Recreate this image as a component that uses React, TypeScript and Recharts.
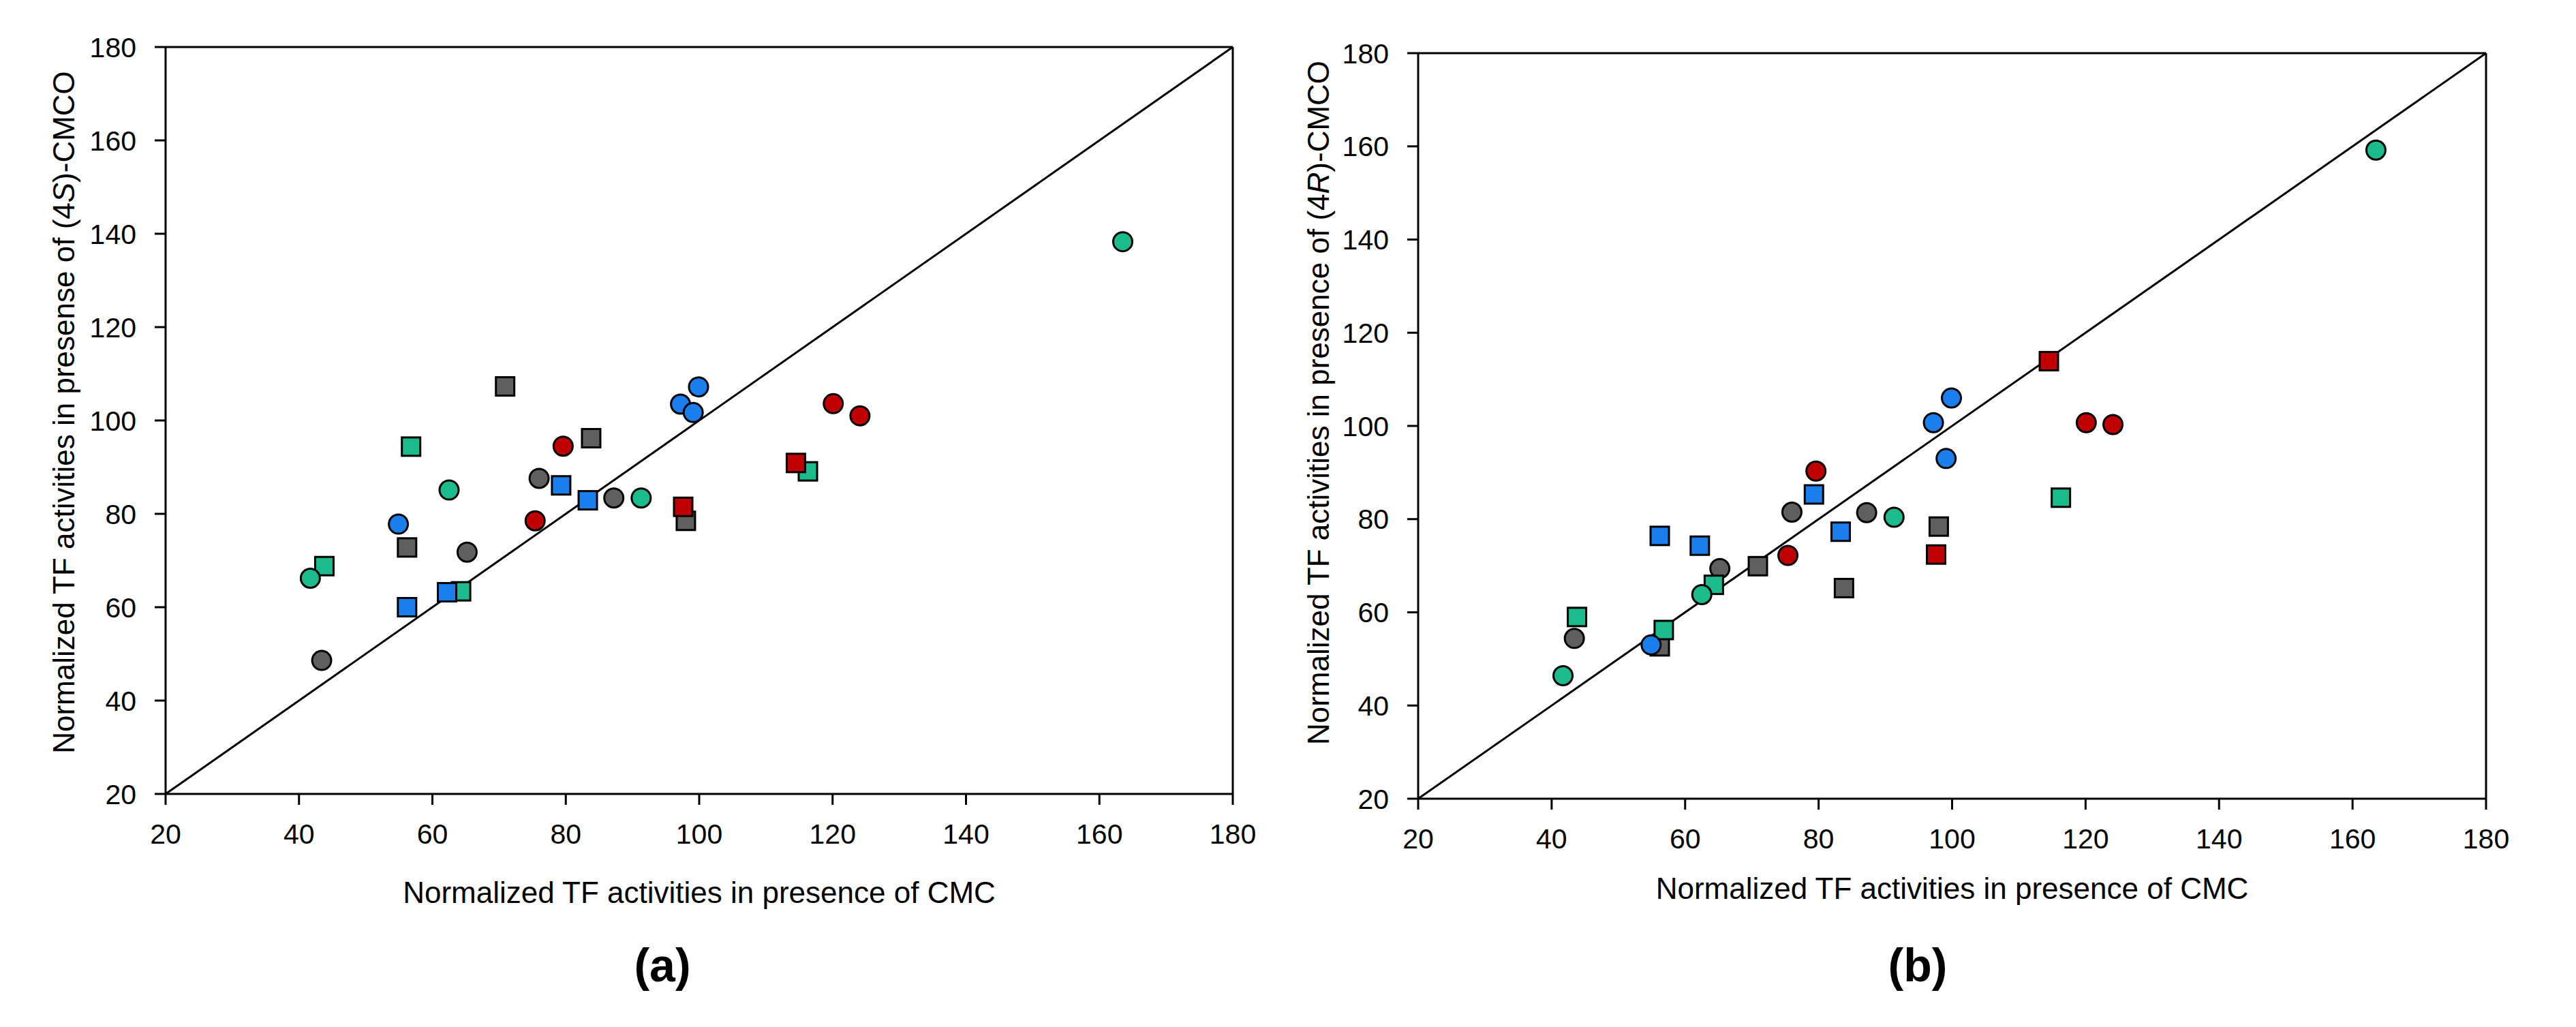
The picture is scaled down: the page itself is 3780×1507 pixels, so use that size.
import React from 'react';
import { Label, ReferenceLine, Scatter, ScatterChart, XAxis, YAxis } from 'recharts';

// x = activity with CMC (shared), a = (4S)-CMCO, b = (4R)-CMCO
const grayCircleX = [43.4, 65.2, 76.0, 87.2];
const grayCircleA = [48.6, 71.8, 87.6, 83.4];
const grayCircleB = [54.4, 69.4, 81.5, 81.4];

const graySquareX = [56.2, 70.9, 83.8, 98.0];
const graySquareA = [72.8, 107.3, 96.2, 78.5];
const graySquareB = [52.7, 69.9, 65.2, 78.4];

const greenCircleX = [41.7, 62.5, 91.3, 163.5];
const greenCircleA = [66.2, 85.1, 83.4, 138.3];
const greenCircleB = [46.4, 63.8, 80.4, 159.2];

const greenSquareX = [43.8, 56.8, 64.3, 116.3];
const greenSquareA = [68.8, 94.4, 63.4, 89.1];
const greenSquareB = [59.0, 56.2, 65.9, 84.6];

const redCircleX = [75.4, 79.6, 120.1, 124.1];
const redCircleA = [78.5, 94.5, 103.6, 101.0];
const redCircleB = [72.2, 90.3, 100.7, 100.3];

const redSquareX = [97.6, 114.5];
const redSquareA = [81.5, 90.9];
const redSquareB = [72.4, 113.9];

const blueSquareX = [56.2, 62.2, 79.3, 83.3];
const blueSquareA = [60.0, 63.2, 86.1, 82.9];
const blueSquareB = [76.4, 74.3, 85.3, 77.3];

const blueCircleX = [54.9, 97.2, 99.1, 99.9];
const blueCircleA = [77.8, 103.5, 101.7, 107.2];
const blueCircleB = [53.0, 100.7, 93.0, 106.0];

const axisTicks = [20, 40, 60, 80, 100, 120, 140, 160, 180];

const GRAY = '#5f5f5f';
const GREEN = '#1cbb8c';
const RED = '#c00000';
const BLUE = '#1a7fec';

const series = [
  { key: 'graySq', color: GRAY, shape: 'square', x: graySquareX, a: graySquareA, b: graySquareB },
  { key: 'grayCi', color: GRAY, shape: 'circle', x: grayCircleX, a: grayCircleA, b: grayCircleB },
  { key: 'greenSq', color: GREEN, shape: 'square', x: greenSquareX, a: greenSquareA, b: greenSquareB },
  { key: 'greenCi', color: GREEN, shape: 'circle', x: greenCircleX, a: greenCircleA, b: greenCircleB },
  { key: 'redSq', color: RED, shape: 'square', x: redSquareX, a: redSquareA, b: redSquareB },
  { key: 'redCi', color: RED, shape: 'circle', x: redCircleX, a: redCircleA, b: redCircleB },
  { key: 'blueSq', color: BLUE, shape: 'square', x: blueSquareX, a: blueSquareA, b: blueSquareB },
  { key: 'blueCi', color: BLUE, shape: 'circle', x: blueCircleX, a: blueCircleA, b: blueCircleB },
];

const FONT = '"Liberation Sans", Arial, sans-serif';

const makeShape = (color: string, kind: string) => (props: any) => {
  const { cx, cy } = props;
  if (cx == null || cy == null) return <g />;
  if (kind === 'square') {
    return <rect x={cx - 13.5} y={cy - 13.5} width={27} height={27} fill={color} stroke="#000" strokeWidth={3} />;
  }
  return <circle cx={cx} cy={cy} r={14} fill={color} stroke="#000" strokeWidth={3} />;
};

function Panel({ which, margin, yWidth, yTitleX, yTitleShift, xTitleDy, letter, presWord }: any) {
  const tickStyle = { fontSize: 41, fill: '#000', fontFamily: FONT };
  const line = { stroke: '#000', strokeWidth: 3 };

  const xTitle = (p: any) => {
    const vb = p.viewBox || {};
    return (
      <text x={vb.x + vb.width / 2} y={vb.y + xTitleDy} textAnchor="middle" dominantBaseline="central"
        fontSize={44} fontFamily={FONT} fill="#000">
        Normalized TF activities in presence of CMC
      </text>
    );
  };

  const yTitle = (p: any) => {
    const vb = p.viewBox || {};
    const cx = vb.x + yTitleX;
    const cy = vb.y + vb.height / 2 + yTitleShift;
    return (
      <text x={cx} y={cy} transform={`rotate(-90, ${cx}, ${cy})`} textAnchor="middle" dominantBaseline="central"
        fontSize={44} fontFamily={FONT} fill="#000">
        {`Normalized TF activities in ${presWord} of (4`}
        <tspan fontStyle="italic">{letter}</tspan>
        {')-CMCO'}
      </text>
    );
  };

  return (
    <ScatterChart width={1890} height={1507} margin={margin}>
      <XAxis type="number" dataKey="x" domain={[20, 180]} ticks={axisTicks} height={200}
        tick={tickStyle} tickSize={16} tickMargin={28} axisLine={line} tickLine={line} allowDataOverflow>
        <Label content={xTitle} />
      </XAxis>
      <YAxis type="number" dataKey="y" domain={[20, 180]} ticks={axisTicks} width={yWidth}
        tick={tickStyle} tickSize={16} tickMargin={27} axisLine={line} tickLine={line} allowDataOverflow>
        <Label content={yTitle} />
      </YAxis>
      <ReferenceLine y={180} stroke="#000" strokeWidth={3} />
      <ReferenceLine x={180} stroke="#000" strokeWidth={3} />
      <ReferenceLine segment={[{ x: 20, y: 20 }, { x: 180, y: 180 }]} stroke="#000" strokeWidth={3} />
      {series.map((s) => (
        <Scatter
          key={s.key}
          name={s.key}
          data={s.x.map((x, i) => ({ x, y: (which === 'a' ? s.a : s.b)[i] }))}
          shape={makeShape(s.color, s.shape)}
          isAnimationActive={false}
        />
      ))}
    </ScatterChart>
  );
}

export default function App() {
  const tag = { position: 'absolute' as const, top: 1416, transform: 'translate(-50%, -50%)', fontSize: 68, fontWeight: 700, fontFamily: FONT, lineHeight: 1 };
  return (
    <div style={{ position: 'absolute', left: 0, top: 0, width: 3780, height: 1507, background: '#fff', overflow: 'hidden' }}>
      <div style={{ position: 'absolute', left: 0, top: 0 }}>
        <Panel which="a" margin={{ top: 69, right: 81, bottom: 142, left: 0 }} yWidth={243}
          yTitleX={93} yTitleShift={-12} xTitleDy={144} letter="S" presWord="presense" />
      </div>
      <div style={{ position: 'absolute', left: 1890, top: 0 }}>
        <Panel which="b" margin={{ top: 78, right: 132, bottom: 135, left: 0 }} yWidth={191}
          yTitleX={44} yTitleShift={-34} xTitleDy={131} letter="R" presWord="presence" />
      </div>
      <div style={{ ...tag, left: 972 }}>(a)</div>
      <div style={{ ...tag, left: 2814 }}>(b)</div>
    </div>
  );
}
